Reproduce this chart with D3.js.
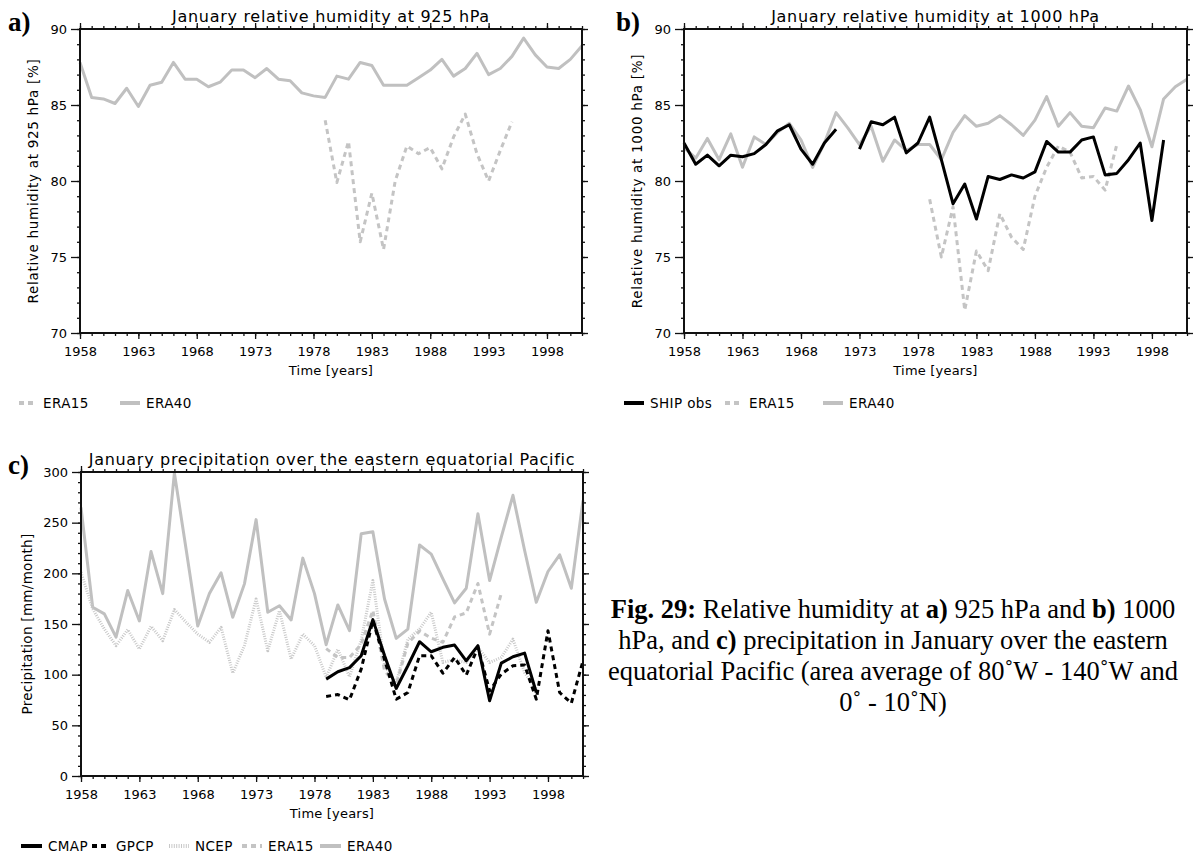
<!DOCTYPE html>
<html>
<head>
<meta charset="utf-8">
<script src="https://cdn.jsdelivr.net/npm/d3@7"></script>
<style>
  body { margin: 0; background: #fff; }
</style>
</head>
<body>
<div id="chart"></div>
<script>

////////////////////////////////////
////////////// data ////////////////
////////////////////////////////////

const firstYear = 1958
const lastYear = 2001
const yearTicks = [1958, 1963, 1968, 1973, 1978, 1983, 1988, 1993, 1998]

// a) relative humidity at 925 hPa
const rh925Era40 = [87.8, 85.5, 85.4, 85.1, 86.1, 84.9, 86.3, 86.5, 87.8, 86.7,
    86.7, 86.2, 86.5, 87.3, 87.3, 86.8, 87.4, 86.7, 86.6, 85.8,
    85.6, 85.5, 86.9, 86.7, 87.8, 87.6, 86.3, 86.3, 86.3, 86.8,
    87.3, 88.0, 86.9, 87.4, 88.4, 87.0, 87.4, 88.2, 89.4, 88.3,
    87.5, 87.4, 88.0, 88.9]            // 1958-2001
const rh925Era15 = [84.0, 79.9, 82.6, 76.0, 79.2, 75.5, 80.0, 82.3, 81.8, 82.2,
    80.8, 82.9, 84.4, 81.8, 80.0, 82.0, 83.9]  // 1979-1995

// b) relative humidity at 1000 hPa
const rh1000Ship = [82.5, 81.1, 81.7, 81.0, 81.7, 81.6, 81.8, 82.4, 83.3, 83.7,
    82.1, 81.1, 82.5, 83.4, null, 82.1, 83.9, 83.7, 84.2, 81.85,
    82.5, 84.2, 81.4, 78.5, 79.8, 77.5, 80.3, 80.1, 80.4, 80.2,
    80.6, 82.6, 81.9, 81.9, 82.7, 82.9, 80.4, 80.5, 81.4, 82.5,
    77.4, 82.7]                        // 1958-1999
const rh1000Era15 = [78.8, 75.0, 78.3, 71.5, 75.4, 74.1, 77.85, 76.3, 75.5, 79.0,
    80.9, 82.3, 81.9, 80.2, 80.3, 79.4, 82.4]  // 1979-1995
const rh1000Era40 = [82.2, 81.5, 82.8, 81.4, 83.1, 80.9, 82.9, 82.4, 83.2, 83.8,
    82.7, 80.9, 82.5, 84.5, 83.5, 82.4, 83.6, 81.3, 82.7, 82.0,
    82.4, 82.4, 81.4, 83.2, 84.3, 83.6, 83.8, 84.3, 83.7, 83.0,
    84.0, 85.55, 83.6, 84.5, 83.6, 83.5, 84.8, 84.6, 86.25, 84.7,
    82.25, 85.4, 86.2, 86.7]           // 1958-2001

// c) precipitation [mm/month]
const prCmap = [95.6, 102.9, 107, 118.7, 154.3, 119, 86.4, 108.8, 132.5, 122.6,
    127, 129.2, 113.7, 128.6, 74.2, 111.4, 117.7, 121.3, 82.4]   // 1979-1997
const prGpcp = [78.5, 80.4, 75.2, 105.5, 153.3, 115, 75.8, 82.4, 118.7, 118.7,
    101.5, 117, 99.6, 127, 84, 100.6, 108.8, 109.5, 75.8, 143.4,
    82.4, 71.9, 113.7]                  // 1979-2001
const prNcep = [201, 165, 145, 128.6, 144.4, 125.3, 147.7, 133.5, 164.2, 151.7,
    140, 131.9, 146.7, 101.5, 128.6, 174.7, 123.6, 163.2, 115.4, 140,
    128.6, 97.3, 125, 98, 134, 193, 109, 92, 135, 145,
    161.6, 112, 115, 112, 127, 112, 117, 135, 102, 86]  // 1958-1997
const prEra15 = [125.7, 117, 117, 130, 163.5, 104, 90, 131, 143, 136,
    132, 157, 161, 190, 140, 180]      // 1979-1994
const prEra40 = [265, 166.5, 160, 137, 183, 153, 221.5, 180, 299, 224,
    148, 180, 200.5, 156.6, 189.6, 253, 161.6, 168, 154, 215,
    180, 129.6, 168.8, 143.4, 239, 241, 174.7, 135.8, 145, 228,
    219, 194.5, 170.8, 185.3, 258.8, 192.9, 235.7, 277, 222.5, 171.4,
    201.8, 218.3, 185.3, 272]           // 1958-2001

////////////////////////////////////
////////////// styles //////////////
////////////////////////////////////

const sans = '"DejaVu Sans", sans-serif'
const serif = '"Liberation Serif", "Times New Roman", serif'

const styles = {
    'SHIP obs': { color: '#000', width: 3, dash: null },
    'CMAP': { color: '#000', width: 3, dash: null },
    'GPCP': { color: '#000', width: 3, dash: '5,4' },
    'NCEP': { color: '#c8c8c8', width: 3, dash: '1,1.4' },
    'ERA15': { color: '#c4c4c4', width: 3, dash: '5,4' },
    'ERA40': { color: '#c0c0c0', width: 3, dash: null }
}

const svg = d3.select('#chart')
    .append('svg')
    .attr('width', 1196)
    .attr('height', 854)
    .style('font-family', sans)

////////////////////////////////////
////////////// panels //////////////
////////////////////////////////////

function panel(p) {

    const x = d3.scaleLinear()
        .domain([firstYear, lastYear])
        .range([p.left, p.right])

    const y = d3.scaleLinear()
        .domain(p.yDomain)
        .range([p.bottom, p.top])

    const g = svg.append('g')

    // lines
    p.series.forEach(s => {
        const st = styles[s.name]
        const line = d3.line()
            .defined(d => d != null)
            .x((d, i) => x(s.start + i))
            .y(d => y(d))
        g.append('path')
            .datum(s.values)
            .attr('d', line)
            .attr('fill', 'none')
            .attr('stroke', st.color)
            .attr('stroke-width', st.width)
            .attr('stroke-dasharray', st.dash)
            .attr('stroke-linejoin', 'round')
    })

    // frame
    g.append('rect')
        .attr('x', p.left)
        .attr('y', p.top)
        .attr('width', p.right - p.left)
        .attr('height', p.bottom - p.top)
        .attr('fill', 'none')
        .attr('stroke', '#111')
        .attr('stroke-width', 2)

    const years = d3.range(firstYear, lastYear + 1)
    const yMinor = d3.range(p.yDomain[0], p.yDomain[1] + 0.001, p.yMinor)
    const clean = sel => sel.call(s => s.select('.domain').remove())
        .call(s => s.selectAll('line').attr('stroke', '#111').attr('stroke-width', 1.3))
    const labels = sel => sel.selectAll('text')
        .style('font-family', sans)
        .attr('font-size', 13)
        .attr('fill', '#000')

    // bottom
    g.append('g').attr('transform', `translate(0,${p.bottom})`)
        .call(d3.axisBottom(x).tickValues(years).tickSize(3).tickFormat('')).call(clean)
    g.append('g').attr('transform', `translate(0,${p.bottom})`)
        .call(d3.axisBottom(x).tickValues(yearTicks).tickSize(6).tickPadding(8).tickFormat(d3.format('d')))
        .call(clean)
        .call(labels)

    // top
    g.append('g').attr('transform', `translate(0,${p.top})`)
        .call(d3.axisTop(x).tickValues(years).tickSize(3).tickFormat('')).call(clean)
    g.append('g').attr('transform', `translate(0,${p.top})`)
        .call(d3.axisTop(x).tickValues(yearTicks).tickSize(6).tickFormat('')).call(clean)

    // left
    g.append('g').attr('transform', `translate(${p.left},0)`)
        .call(d3.axisLeft(y).tickValues(yMinor).tickSize(3).tickFormat('')).call(clean)
    g.append('g').attr('transform', `translate(${p.left},0)`)
        .call(d3.axisLeft(y).tickValues(p.yTicks).tickSize(9).tickPadding(4).tickFormat(d3.format('d')))
        .call(clean)
        .call(labels)

    // right
    g.append('g').attr('transform', `translate(${p.right},0)`)
        .call(d3.axisRight(y).tickValues(yMinor).tickSize(3).tickFormat('')).call(clean)
    g.append('g').attr('transform', `translate(${p.right},0)`)
        .call(d3.axisRight(y).tickValues(p.yTicks).tickSize(6).tickFormat('')).call(clean)

    // title
    g.append('text')
        .attr('x', (p.left + p.right) / 2)
        .attr('y', p.top - 7)
        .attr('text-anchor', 'middle')
        .attr('font-size', 16)
        .attr('letter-spacing', 0.7)
        .text(p.title)

    // x label
    g.append('text')
        .attr('x', (p.left + p.right) / 2)
        .attr('y', p.bottom + 42)
        .attr('text-anchor', 'middle')
        .attr('font-size', 13)
        .attr('letter-spacing', 0.2)
        .text('Time [years]')

    // y label
    g.append('text')
        .attr('transform', `translate(${p.yLabelX},${(p.top + p.bottom) / 2}) rotate(-90)`)
        .attr('text-anchor', 'middle')
        .attr('font-size', 13.5)
        .attr('letter-spacing', p.yLabelSpacing)
        .text(p.yLabel)

    // panel letter
    g.append('text')
        .attr('x', p.letterX)
        .attr('y', p.top + 2)
        .style('font-family', serif)
        .attr('font-weight', 'bold')
        .attr('font-size', 27)
        .text(p.letter)

    // legend
    const ly = p.bottom + 70
    p.legend.forEach(l => {
        const st = styles[l.name]
        g.append('line')
            .attr('x1', l.x).attr('x2', l.x + l.len)
            .attr('y1', ly).attr('y2', ly)
            .attr('stroke', st.color)
            .attr('stroke-width', 4)
            .attr('stroke-dasharray', st.dash)
        g.append('text')
            .attr('x', l.x + l.len + 6)
            .attr('y', ly + 5)
            .attr('font-size', 13.5)
            .attr('letter-spacing', 0.4)
            .text(l.name)
    })
}

panel({
    left: 80, right: 582, top: 29, bottom: 333,
    yDomain: [70, 90], yTicks: [70, 75, 80, 85, 90], yMinor: 1,
    title: 'January relative humidity at 925 hPa',
    yLabel: 'Relative humidity at 925 hPa [%]', yLabelX: 38, yLabelSpacing: 0.7,
    letter: 'a)', letterX: 8,
    series: [
        { name: 'ERA40', start: 1958, values: rh925Era40 },
        { name: 'ERA15', start: 1979, values: rh925Era15 }
    ],
    legend: [
        { name: 'ERA15', x: 19, len: 18 },
        { name: 'ERA40', x: 120, len: 20 }
    ]
})

panel({
    left: 684, right: 1187, top: 29, bottom: 333,
    yDomain: [70, 90], yTicks: [70, 75, 80, 85, 90], yMinor: 1,
    title: 'January relative humidity at 1000 hPa',
    yLabel: 'Relative humidity at 1000 hPa [%]', yLabelX: 642, yLabelSpacing: 0.7,
    letter: 'b)', letterX: 616,
    series: [
        { name: 'ERA40', start: 1958, values: rh1000Era40 },
        { name: 'ERA15', start: 1979, values: rh1000Era15 },
        { name: 'SHIP obs', start: 1958, values: rh1000Ship }
    ],
    legend: [
        { name: 'SHIP obs', x: 624, len: 20 },
        { name: 'ERA15', x: 725, len: 18 },
        { name: 'ERA40', x: 823, len: 20 }
    ]
})

panel({
    left: 81, right: 583, top: 472, bottom: 776,
    yDomain: [0, 300], yTicks: [0, 50, 100, 150, 200, 250, 300], yMinor: 10,
    title: 'January precipitation over the eastern equatorial Pacific',
    yLabel: 'Precipitation [mm/month]', yLabelX: 32, yLabelSpacing: 0.3,
    letter: 'c)', letterX: 8,
    series: [
        { name: 'ERA40', start: 1958, values: prEra40 },
        { name: 'NCEP', start: 1958, values: prNcep },
        { name: 'ERA15', start: 1979, values: prEra15 },
        { name: 'GPCP', start: 1979, values: prGpcp },
        { name: 'CMAP', start: 1979, values: prCmap }
    ],
    legend: [
        { name: 'CMAP', x: 21, len: 21 },
        { name: 'GPCP', x: 92, len: 18 },
        { name: 'NCEP', x: 169, len: 20 },
        { name: 'ERA15', x: 242, len: 20 },
        { name: 'ERA40', x: 320, len: 21 }
    ]
})

////////////////////////////////////
////////////// caption /////////////
////////////////////////////////////

const captionLines = [
    [['Fig. 29:', true], [' Relative humidity at ', false], ['a)', true], [' 925 hPa and ', false], ['b)', true], [' 1000', false]],
    [['hPa, and ', false], ['c)', true], [' precipitation in January over the eastern', false]],
    [['equatorial Pacific (area average of 80˚W - 140˚W and', false]],
    [['0˚ - 10˚N)', false]]
]

const caption = svg.append('g')
captionLines.forEach((parts, i) => {
    const t = caption.append('text')
        .attr('x', 893)
        .attr('y', 618 + i * 31)
        .attr('text-anchor', 'middle')
        .style('font-family', serif)
        .attr('font-size', 26.5)
    parts.forEach(([s, b]) => {
        t.append('tspan')
            .attr('font-weight', b ? 'bold' : 'normal')
            .text(s)
    })
})

</script>
</body>
</html>
